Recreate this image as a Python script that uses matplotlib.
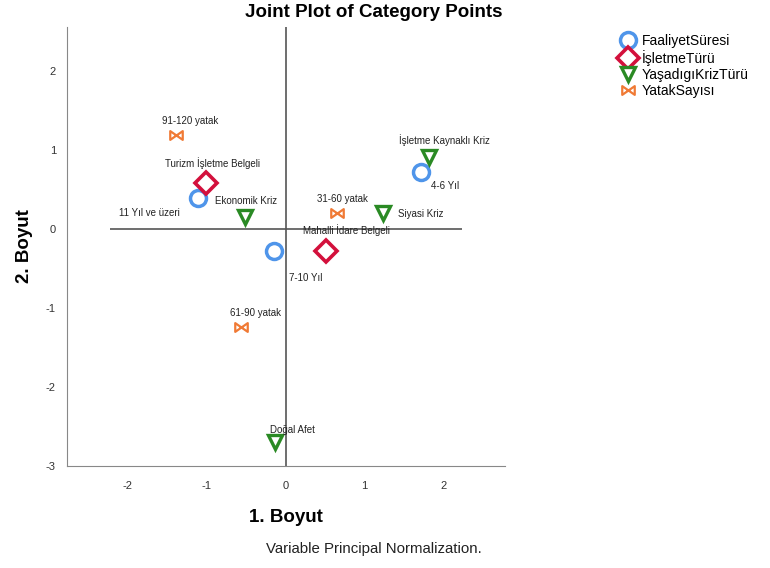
import matplotlib.pyplot as plt
from matplotlib.path import Path

plt.rcParams['font.family'] = ['Liberation Sans', 'DejaVu Sans']
plt.rcParams['axes.unicode_minus'] = False

# category coordinates (dimension 1, dimension 2)
faaliyet_labels = ['11 Yıl ve üzeri', '4-6 Yıl', '7-10 Yıl']
faaliyet_x = [-1.11, 1.72, -0.15]
faaliyet_y = [0.40, 0.72, -0.28]

isletme_labels = ['Turizm İşletme Belgeli', 'Mahalli İdare Belgeli']
isletme_x = [-1.01, 0.51]
isletme_y = [0.58, -0.28]

kriz_labels = ['İşletme Kaynaklı Kriz', 'Ekonomik Kriz', 'Siyasi Kriz', 'Doğal Afet']
kriz_x = [1.82, -0.52, 1.23, -0.13]
kriz_y = [0.92, 0.16, 0.21, -2.70]

yatak_labels = ['91-120 yatak', '31-60 yatak', '61-90 yatak']
yatak_x = [-1.39, 0.65, -0.56]
yatak_y = [1.19, 0.21, -1.24]

# label offsets in points (dx, dy) from each marker
faaliyet_off = [(-35, -11), (17, -10), (23, -19)]
isletme_off = [(5, 15), (15, 15)]
kriz_off = [(11, 12), (1, 11), (27, -1), (12, 9)]
yatak_off = [(10, 10), (4, 10), (10, 10)]

bowtie = Path([(-1, -0.7), (-1, 0.7), (0, 0), (1, 0.7), (1, -0.7), (0, 0), (-1, -0.7)],
              [Path.MOVETO, Path.LINETO, Path.LINETO, Path.LINETO, Path.LINETO, Path.LINETO, Path.CLOSEPOLY])

fig = plt.figure(figsize=(7.7, 5.68), dpi=100)
ax = fig.add_axes([0.087, 0.180, 0.569, 0.772])

ax.axvline(0, color='#555555', lw=1.2, zorder=1)
ax.hlines(0, -2.23, 2.23, color='#555555', lw=1.2, zorder=1)

groups = [
    ('FaaliyetSüresi', faaliyet_x, faaliyet_y, faaliyet_labels, faaliyet_off,
     dict(marker='o', ms=11.5, mew=2.5, mec='#4f95ea')),
    ('İşletmeTürü', isletme_x, isletme_y, isletme_labels, isletme_off,
     dict(marker='D', ms=11, mew=2.6, mec='#d3103c')),
    ('YaşadıgıKrizTürü', kriz_x, kriz_y, kriz_labels, kriz_off,
     dict(marker='v', ms=10, mew=2.4, mec='#2a8a24')),
    ('YatakSayısı', yatak_x, yatak_y, yatak_labels, yatak_off,
     dict(marker=bowtie, ms=9, mew=1.6, mec='#f07a35')),
]

for name, xs, ys, labels, offs, style in groups:
    ax.plot(xs, ys, ls='none', mfc='white', label=name, zorder=3, **style)
    for x, y, lab, off in zip(xs, ys, labels, offs):
        ax.annotate(lab, (x, y), xytext=off, textcoords='offset points',
                    ha='center', va='center', fontsize=7.0, color='#222222')

ax.set_xlim(-2.77, 2.78)
ax.set_ylim(-3, 2.56)
ax.set_xticks([-2, -1, 0, 1, 2])
ax.set_yticks([-3, -2, -1, 0, 1, 2])
for s in ['top', 'right']:
    ax.spines[s].set_visible(False)
for s in ['left', 'bottom']:
    ax.spines[s].set_color('#888888')
ax.tick_params(length=0, labelsize=8, colors='#333333')
ax.tick_params(axis='x', pad=11)
ax.tick_params(axis='y', pad=8)

ax.set_xlabel('1. Boyut', fontsize=13.5, fontweight='bold', labelpad=13)
ax.set_ylabel('2. Boyut', fontsize=13.5, fontweight='bold', labelpad=9)

fig.text(0.485, 0.978, 'Joint Plot of Category Points', ha='center', va='center',
         fontsize=13.5, fontweight='bold')
fig.text(0.485, 0.033, 'Variable Principal Normalization.', ha='center', va='center',
         fontsize=10.8, color='#222222')

fig.legend(loc='upper left', bbox_to_anchor=(0.797, 0.953), frameon=False,
           fontsize=10, handletextpad=0.5, labelspacing=0.15, handlelength=1.0,
           borderpad=0)

fig.savefig('out.png', dpi=100)
